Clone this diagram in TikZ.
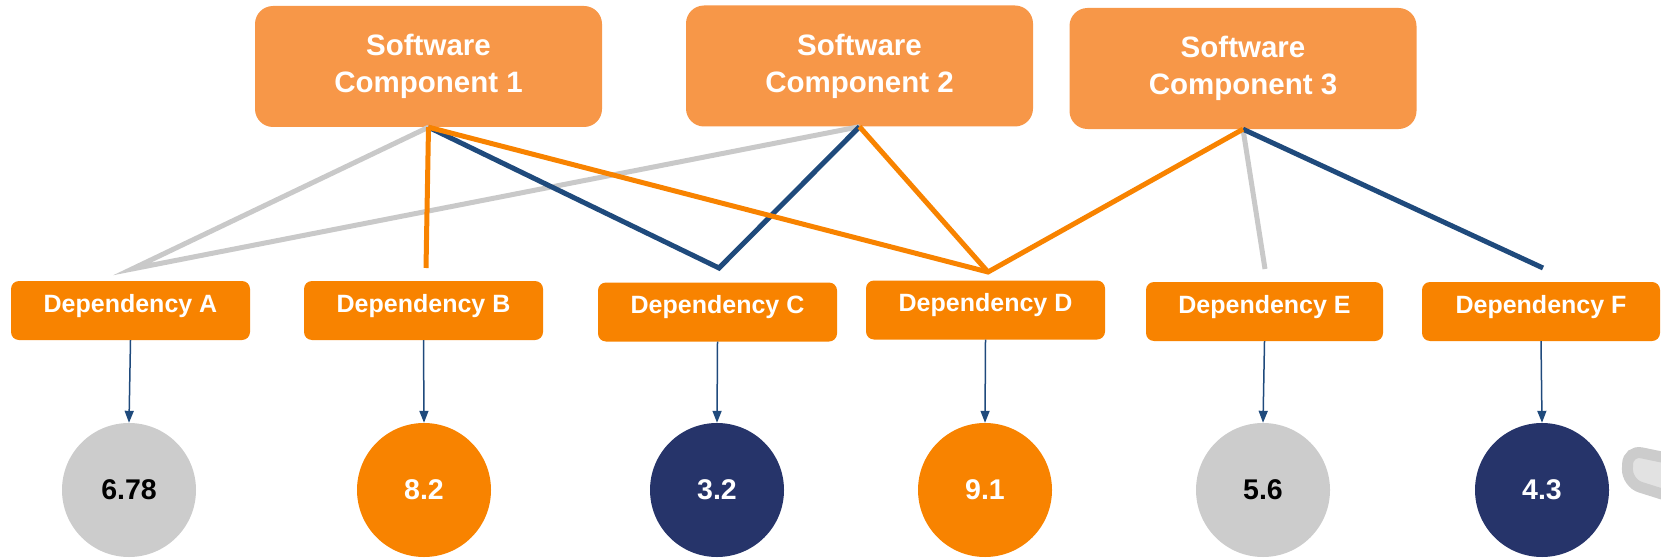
\documentclass[tikz,border=0pt]{standalone}
\usepackage{fontspec}
\setmainfont{Liberation Sans}
\usetikzlibrary{arrows.meta}
\definecolor{scfill}{HTML}{F79748}
\definecolor{depfill}{HTML}{F88300}
\definecolor{navyc}{HTML}{26346A}
\definecolor{navyl}{HTML}{1F4A7C}
\definecolor{grayc}{HTML}{CCCCCC}
\definecolor{grayl}{HTML}{C9C9C9}
\definecolor{graylight}{HTML}{E2E2E2}
\begin{document}
\begin{tikzpicture}[x=1pt,y=-1pt,
  comp/.style={rectangle, rounded corners=18pt, fill=scfill, text=white,
    font=\fontsize{29.5}{37}\selectfont\bfseries, align=center,
    minimum width=347pt, minimum height=121pt, inner sep=0pt},
  depbox/.style={rectangle, rounded corners=8pt, fill=depfill, text=white,
    font=\fontsize{25}{28}\selectfont\bfseries, text height=0.72em, text depth=0.38em,
    minimum width=239pt, minimum height=59pt, inner sep=0pt},
  score/.style={circle, minimum size=134pt, inner sep=0pt,
    font=\fontsize{28.5}{32}\selectfont\bfseries},
  link/.style={line width=5pt, line join=miter},
  arr/.style={draw=navyl, line width=1.5pt, -{Triangle[length=12pt,width=9pt]}}
]
\useasboundingbox (0,0) rectangle (1661,559);

% software components
\node[comp] (sc1) at (428.5,66.5) {Software\\Component 1};
\node[comp] (sc2) at (859.5,66) {Software\\Component 2};
\node[comp] (sc3) at (1243,68.5) {Software\\Component 3};

% dependencies
\node[depbox] (dA) at (130.5,310.5) {Dependency A};
\node[depbox] (dB) at (423.5,310.5) {Dependency B};
\node[depbox] (dC) at (717.5,312) {Dependency C};
\node[depbox] (dD) at (985.5,310) {Dependency D};
\node[depbox, minimum width=237pt] (dE) at (1264.5,311.5) {Dependency E};
\node[depbox, minimum width=238pt] (dF) at (1541,311.5) {Dependency F};

% scores
\node[score, fill=grayc, text=black] (cA) at (129,490) {6.78};
\node[score, fill=depfill, text=white] (cB) at (424,490) {8.2};
\node[score, fill=navyc, text=white] (cC) at (717,490) {3.2};
\node[score, fill=depfill, text=white] (cD) at (985,490) {9.1};
\node[score, fill=grayc, text=black] (cE) at (1263,490) {5.6};
\node[score, fill=navyc, text=white] (cF) at (1542,490) {4.3};

% connector end points above the dependencies
\coordinate (tA) at (132,269);
\coordinate (tB) at (426,268);
\coordinate (tC) at (719,268);
\coordinate (tD) at (988,272);
\coordinate (tE) at (1265,269);
\coordinate (tF) at (1543,268);

% gray links
\draw[link, grayl] (sc1.south) -- (tA) -- (sc2.south);
\draw[link, grayl] (sc3.south) -- (tE);
% navy links
\draw[link, navyl] (sc1.south) -- (tC) -- (sc2.south);
\draw[link, navyl] (sc3.south) -- (tF);
% orange links
\draw[link, depfill] (sc1.south) -- (tB);
\draw[link, depfill] (sc1.south) -- (tD) -- (sc3.south);
\draw[link, depfill] (sc2.south) -- (tD);

% arrows to scores
\draw[arr] (dA.south) -- (cA.north);
\draw[arr] (dB.south) -- (cB.north);
\draw[arr] (dC.south) -- (cC.north);
\draw[arr] (dD.south) -- (cD.north);
\draw[arr] (dE.south) -- (cE.north);
\draw[arr] (dF.south) -- (cF.north);

% cut-off gray shape at the right edge
\draw[draw=grayc, fill=graylight, line width=11pt, rounded corners=14pt]
  (1700,465) -- (1628,450) -- (1627,483) -- (1700,506);
\end{tikzpicture}
\end{document}
